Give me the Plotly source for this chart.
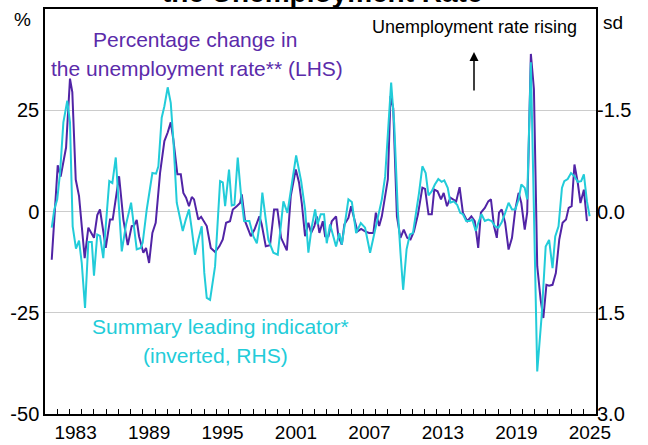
import plotly.graph_objects as go

# Percentage change in the unemployment rate (LHS, %)
unemp_x = [1981.55, 1982.04, 1982.28, 1982.72, 1983.04, 1983.23, 1983.51, 1983.78, 1984.24, 1984.54,
           1985.00, 1985.27, 1985.49, 1985.96, 1986.31, 1986.53, 1987.05, 1987.40, 1987.76, 1988.08,
           1988.27, 1988.49, 1988.68, 1989.03, 1989.25, 1989.50, 1989.77, 1990.04, 1990.40, 1990.75,
           1991.02, 1991.27, 1991.48, 1991.81, 1992.09, 1992.30, 1992.52, 1992.76, 1992.99, 1993.17,
           1993.52, 1993.75, 1994.21, 1994.54, 1994.89, 1995.24, 1995.52, 1995.79, 1996.11, 1996.34,
           1996.66, 1996.93, 1997.07, 1997.34, 1997.81, 1998.10, 1998.51, 1998.70, 1999.03, 1999.38,
           1999.71, 1999.98, 2000.28, 2000.75, 2001.07, 2001.48, 2001.75, 2001.97, 2002.24, 2002.51,
           2002.73, 2003.00, 2003.20, 2003.41, 2003.69, 2003.88, 2004.15, 2004.42, 2004.77, 2004.96,
           2005.24, 2005.45, 2005.78, 2006.00, 2006.27, 2006.52, 2006.82, 2007.14, 2007.47, 2007.82,
           2008.02, 2008.29, 2008.51, 2008.78, 2009.00, 2009.22, 2009.44, 2009.74, 2010.03, 2010.30,
           2010.58, 2010.85, 2011.13, 2011.46, 2011.82, 2012.04, 2012.32, 2012.59, 2012.79, 2013.06,
           2013.34, 2013.56, 2013.83, 2014.11, 2014.38, 2014.58, 2014.86, 2015.13, 2015.49, 2015.82,
           2016.10, 2016.38, 2016.60, 2016.92, 2017.20, 2017.42, 2017.67, 2017.90, 2018.08, 2018.30,
           2018.58, 2018.86, 2019.14, 2019.41, 2019.68, 2019.90, 2020.18, 2020.38, 2020.68, 2020.93,
           2021.20, 2021.48, 2021.70, 2021.95, 2022.17, 2022.45, 2022.72, 2023.00, 2023.27, 2023.55,
           2023.77, 2024.01, 2024.24, 2024.51, 2024.73, 2025.01, 2025.26]
unemp_y = [-11.9, 11.4, 8.6, 15.8, 32.8, 29.5, 7.9, 3.8, -11.5, -4.0,
           -6.5, -0.9, 0.5, -9.0, -2.0, -2.0, 8.7, -2.0, -8.3, -3.6,
           -3.5, -2.1, -6.1, -10.2, -9.0, -12.7, -5.3, -2.8, 9.6, 17.4,
           19.5, 22.0, 17.8, 9.2, 9.2, 4.6, 3.4, 1.3, 3.6, 3.0,
           -2.0, -1.3, -3.6, -9.0, -10.0, -8.6, -6.9, -2.8, -2.4, 0.5,
           1.3, 2.1, 4.2, -2.4, -6.1, -4.5, -1.2, -3.2, -8.6, -8.3,
           0.5, 0.5, -6.5, -9.6, 3.8, 10.4, 7.1, 2.1, -6.1, -2.8,
           -5.3, -3.6, -1.2, -5.3, -2.4, -6.1, -6.1, -2.4, -1.2, -6.1,
           -8.2, -3.2, -1.6, 1.3, -2.0, -4.9, -4.3, -4.9, -5.3, -5.3,
           -0.3, -3.6, -1.2, 3.8, 7.9, 28.5, 25.5, -1.2, -6.5, -4.5,
           -6.5, -6.9, -4.9, -0.7, 5.9, 5.6, -0.7, -0.7, 5.4, 5.0,
           3.0, 4.6, 1.3, 3.4, 3.0, 2.5, 6.0, -0.3, -2.4, -1.2,
           -2.4, -9.0, -0.3, 0.9, 2.5, 3.0, -3.6, -6.5, -0.3, 0.5,
           -2.8, -9.4, -6.5, 0.5, 4.6, 2.1, -4.5, -0.3, 38.9, 30.2,
           -13.5, -21.8, -26.3, -18.1, -18.3, -18.1, -15.2, -6.9, -2.8, -2.0,
           0.9, 1.3, 11.6, 7.1, 2.1, 5.4, -2.4]

# Summary leading indicator (inverted, RHS, sd)
sli_x = [1981.55, 1981.76, 1982.00, 1982.23, 1982.50, 1982.82, 1983.04, 1983.26, 1983.53, 1983.78,
         1984.00, 1984.27, 1984.54, 1984.82, 1985.00, 1985.27, 1985.49, 1985.76, 1986.25, 1986.50,
         1986.78, 1987.27, 1987.62, 1988.03, 1988.49, 1988.82, 1988.98, 1989.31, 1989.77, 1990.07,
         1990.26, 1990.53, 1990.75, 1991.02, 1991.27, 1991.48, 1991.76, 1991.97, 1992.25, 1992.50,
         1992.76, 1992.99, 1993.25, 1993.52, 1993.80, 1994.01, 1994.21, 1994.48, 1994.89, 1995.30,
         1995.52, 1995.71, 1996.03, 1996.25, 1996.47, 1996.74, 1996.99, 1997.26, 1997.69, 1998.02,
         1998.30, 1998.57, 1998.75, 1999.24, 1999.65, 2000.01, 2000.28, 2000.47, 2000.80, 2001.16,
         2001.51, 2001.92, 2002.24, 2002.51, 2002.79, 2003.06, 2003.25, 2003.52, 2003.79, 2004.01,
         2004.28, 2004.77, 2005.04, 2005.24, 2005.51, 2005.78, 2006.06, 2006.41, 2006.79, 2007.14,
         2007.55, 2007.96, 2008.51, 2008.78, 2009.27, 2009.52, 2009.81, 2010.03, 2010.25, 2010.53,
         2010.80, 2011.05, 2011.27, 2011.55, 2011.82, 2012.09, 2012.32, 2012.59, 2012.84, 2013.12,
         2013.39, 2013.61, 2013.89, 2014.11, 2014.38, 2014.66, 2014.91, 2015.13, 2015.40, 2015.68,
         2015.90, 2016.18, 2016.38, 2016.65, 2016.92, 2017.20, 2017.48, 2017.76, 2018.03, 2018.30,
         2018.58, 2018.86, 2019.14, 2019.41, 2019.68, 2019.90, 2020.18, 2020.38, 2020.68, 2021.20,
         2021.56, 2021.89, 2022.17, 2022.45, 2022.67, 2022.94, 2023.22, 2023.41, 2023.69, 2023.96,
         2024.24, 2024.51, 2024.79, 2025.01, 2025.26, 2025.48]
sli_y = [0.24, -0.03, -0.18, -0.57, -1.32, -1.64, -1.32, 0.22, 0.55, 0.43,
         0.76, 1.43, 0.45, 0.45, 0.95, 0.34, 0.36, 0.69, -0.45, -0.42,
         -0.80, 0.59, 0.19, -0.13, 0.56, 0.54, 0.46, -0.03, -0.57, -0.56,
         -0.67, -1.39, -1.56, -1.84, -1.61, -1.07, -0.13, 0.07, 0.29, 0.12,
         -0.03, 0.27, 0.64, 0.42, 0.22, 0.91, 1.28, 1.31, 0.81, -0.45,
         -0.43, -0.08, -0.62, -0.09, -0.10, -0.80, -0.28, 0.14, 0.14, 0.37,
         0.47, 0.14, -0.28, 0.42, 0.61, 0.64, 0.12, -0.15, 0.02, -0.43,
         -0.83, -0.45, -0.03, 0.61, 0.22, -0.03, 0.19, 0.04, 0.04, 0.47,
         0.19, 0.52, 0.32, 0.49, 0.14, -0.18, -0.14, 0.32, 0.17, 0.24,
         0.61, 0.27, -0.18, -0.52, -1.91, -1.30, -0.03, 0.61, 1.16, 0.56,
         0.34, 0.32, 0.07, -0.28, -0.67, -0.57, -0.24, -0.30, -0.40, -0.48,
         -0.44, -0.46, -0.35, -0.13, -0.15, -0.10, 0.02, 0.04, 0.14, 0.14,
         0.12, 0.29, 0.17, 0.04, 0.14, 0.12, 0.14, 0.22, 0.24, 0.16,
         0.02, -0.13, -0.03, -0.03, -0.18, -0.40, -0.35, -0.18, -2.21, 2.37,
         1.55, 0.52, 0.42, 0.84, 0.37, 0.22, -0.35, -0.45, -0.48, -0.57,
         -0.52, -0.44, -0.45, -0.55, -0.15, 0.07]

year_labels = ["1983", "1989", "1995", "2001", "2007", "2013", "2019", "2025"]
label_pos = [int(y) + 0.5 for y in year_labels]
minor_years = list(range(1982, 2026))
lhs_ticks = [-50, -25, 0, 25]
lhs_text = ["-50", "-25", "0", "25"]
rhs_ticks = [-1.5, 0.0, 1.5, 3.0]
rhs_text = ["-1.5", "0.0", "1.5", "3.0"]

PURPLE = "#5124A6"
PURPLE_TXT = "#5B2BAA"
CYAN = "#22CCD9"
FONT = "Liberation Sans, Arial, sans-serif"

fig = go.Figure()
fig.add_trace(go.Scatter(x=unemp_x, y=unemp_y, mode="lines",
                         line=dict(color=PURPLE, width=2), yaxis="y"))
fig.add_trace(go.Scatter(x=sli_x, y=sli_y, mode="lines",
                         line=dict(color=CYAN, width=2), yaxis="y2"))

fig.update_layout(
    width=648, height=445,
    margin=dict(l=45, r=52, t=9, b=31, autoexpand=False),
    paper_bgcolor="white", plot_bgcolor="white",
    showlegend=False,
    font=dict(family=FONT, color="black", size=19),
    xaxis=dict(range=[1981, 2026], tickvals=label_pos, ticktext=year_labels,
               ticks="", showgrid=False, zeroline=False, automargin=False,
               showline=True, linecolor="black", linewidth=1.5, mirror=True,
               tickfont=dict(size=19),
               minor=dict(tickvals=minor_years, ticks="inside", ticklen=5,
                          tickcolor="black", tickwidth=1, showgrid=False)),
    yaxis=dict(range=[-50, 50], tickvals=lhs_ticks, ticktext=lhs_text,
               ticks="", automargin=False,
               showgrid=True, gridcolor="#cccccc", gridwidth=1, zeroline=False,
               showline=True, linecolor="black", linewidth=1.5, mirror=True,
               tickfont=dict(size=20)),
    yaxis2=dict(range=[3.0, -3.0], tickvals=rhs_ticks, ticktext=rhs_text,
                overlaying="y", side="right", ticks="", showgrid=False,
                automargin=False,
                zeroline=False, showline=False, tickfont=dict(size=20)),
)

def px_x(p):
    return (p - 45) / 551.0

def px_y(p):
    return (414 - p) / 405.0

anns = [
    dict(text="<b>the Unemployment Rate</b>", x=px_x(322), y=1, yanchor="bottom",
         yshift=-1, font=dict(size=28, color="black")),
    dict(text="%", x=px_x(22), y=px_y(20), font=dict(size=19)),
    dict(text="sd", x=px_x(613), y=px_y(22), font=dict(size=19)),
    dict(text="Percentage change in", x=px_x(195), y=px_y(40),
         font=dict(size=21, color=PURPLE_TXT)),
    dict(text="the unemployment rate** (LHS)", x=px_x(197), y=px_y(68),
         font=dict(size=21, color=PURPLE_TXT)),
    dict(text="Unemployment rate rising", x=px_x(474), y=px_y(27),
         font=dict(size=18, color="black")),
    dict(text="Summary leading indicator*", x=px_x(220), y=px_y(326),
         font=dict(size=21, color=CYAN)),
    dict(text="(inverted, RHS)", x=px_x(215), y=px_y(355),
         font=dict(size=21, color=CYAN)),
]
for a in anns:
    a.setdefault("showarrow", False)
    fig.add_annotation(xref="paper", yref="paper", xanchor="center",
                       yanchor=a.pop("yanchor", "middle"), **a)

fig.add_annotation(xref="paper", yref="paper", x=px_x(474), y=px_y(52),
                   ax=0, ay=40, showarrow=True, arrowhead=2, arrowsize=1.2,
                   arrowwidth=1.5, arrowcolor="black", text="")

fig.write_html("out.html", config={"displayModeBar": False},
               post_script="document.body.style.margin='0px';")
